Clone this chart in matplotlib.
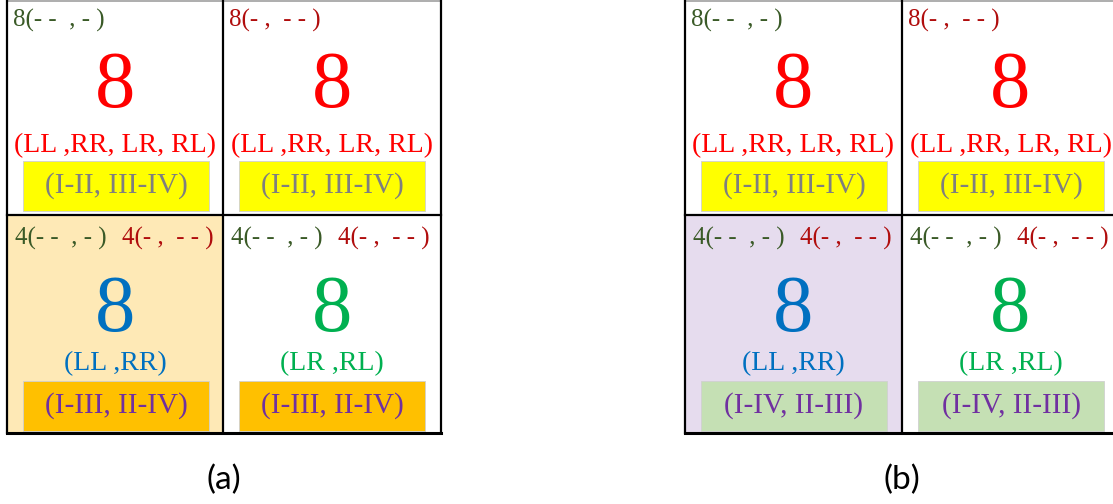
import matplotlib
matplotlib.use("Agg")
import matplotlib.pyplot as plt
from matplotlib.patches import Rectangle

# --- data ---
panel_names = ["(a)", "(b)"]
big_counts = [[8, 8], [8, 8]]                      # rows x cols, same in both panels
top_corner = ["8(- -  , - )", "8(- ,  - - )"]       # top row corner labels
bottom_corner = ["4(- -  , - )", "4(- ,  - - )"]    # bottom row corner labels (both cells)
pair_labels = [["(LL ,RR, LR, RL)", "(LL ,RR, LR, RL)"],
               ["(LL ,RR)", "(LR ,RL)"]]
region_top = "(I-II, III-IV)"
region_bottom = ["(I-III, II-IV)", "(I-IV, II-III)"]   # per panel

# --- style ---
GREEN_DK = "#3a5a27"
RED_DK = "#b00d0d"
BIG_COLORS = [["#ff0000", "#ff0000"], ["#0070c0", "#00b050"]]
BOX_TOP = "#ffff00"
BOX_BOTTOM = ["#ffc000", "#c5e0b4"]
BOX_TEXT = ["#7f7f7f", "#7030a0"]
HILITE = ["#fee9b6", "#e6dcee"]
SERIF = "Liberation Serif"

fig = plt.figure(figsize=(11.13, 5.04), dpi=100)
ax = fig.add_axes([0, 0, 1, 1])
ax.set_xlim(0, 1113)
ax.set_ylim(504, 0)
ax.axis("off")

panel_x = [7, 685]
cell_w = [[216, 218], [217, 217]]
cell_h = [215, 218]

for p, px in enumerate(panel_x):
    for r in range(2):
        y0 = sum(cell_h[:r])
        for c in range(2):
            x0 = px + sum(cell_w[p][:c])
            w, h = cell_w[p][c], cell_h[r]
            cx = x0 + w / 2
            if r == 1 and c == 0:
                ax.add_patch(Rectangle((x0, y0), w, h, color=HILITE[p], lw=0, zorder=0))

            # corner labels
            if r == 0:
                ax.text(x0 + 6, y0 + 20, top_corner[c], color=[GREEN_DK, RED_DK][c],
                        fontsize=18, family=SERIF, va="center", ha="left")
                y_big, y_pair, y_box = 87, 146, 161
            else:
                ax.text(x0 + 8, y0 + 23, bottom_corner[0], color=GREEN_DK,
                        fontsize=18, family=SERIF, va="center", ha="left")
                ax.text(x0 + 115, y0 + 23, bottom_corner[1], color=RED_DK,
                        fontsize=18, family=SERIF, va="center", ha="left")
                y_big, y_pair, y_box = 96, 149, 166

            col = BIG_COLORS[r][c]
            ax.text(cx, y0 + y_big, str(big_counts[r][c]), color=col, fontsize=58,
                    family=SERIF, va="center", ha="center")
            ax.text(cx, y0 + y_pair, pair_labels[r][c], color=col, fontsize=20,
                    family=SERIF, va="center", ha="center")

            # region box
            bw, bh = 186, 50
            if r == 0:
                fc, label, tc = BOX_TOP, region_top, BOX_TEXT[0]
            else:
                fc, label, tc = BOX_BOTTOM[p], region_bottom[p], BOX_TEXT[1]
            ax.add_patch(Rectangle((x0 + 16, y0 + y_box), bw, bh, facecolor=fc,
                                   edgecolor="#d0d0d0", lw=0.6, zorder=1))
            ax.text(x0 + 16 + bw / 2, y0 + y_box + bh / 2, label, color=tc,
                    fontsize=21, family=SERIF, va="center", ha="center", zorder=2)

    # grid lines
    total_w = sum(cell_w[p])
    total_h = sum(cell_h)
    ax.plot([px, px + total_w], [0.5, 0.5], color="#a0a0a0", lw=1.2, zorder=3)
    ax.plot([px, px], [0, total_h], color="black", lw=1.6, zorder=3)
    ax.plot([px + total_w, px + total_w], [0, total_h], color="black", lw=1.6, zorder=3)
    ax.plot([px + cell_w[p][0]] * 2, [0, total_h], color="black", lw=1.6, zorder=3)
    ax.plot([px, px + total_w], [cell_h[0]] * 2, color="black", lw=1.6, zorder=3)
    ax.plot([px, px + total_w], [total_h] * 2, color="black", lw=2.2, zorder=3)

    ax.text(px + total_w / 2, 480, panel_names[p], fontsize=24, family="Lato",
            va="center", ha="center", color="black")

fig.savefig("out.png", dpi=100)
